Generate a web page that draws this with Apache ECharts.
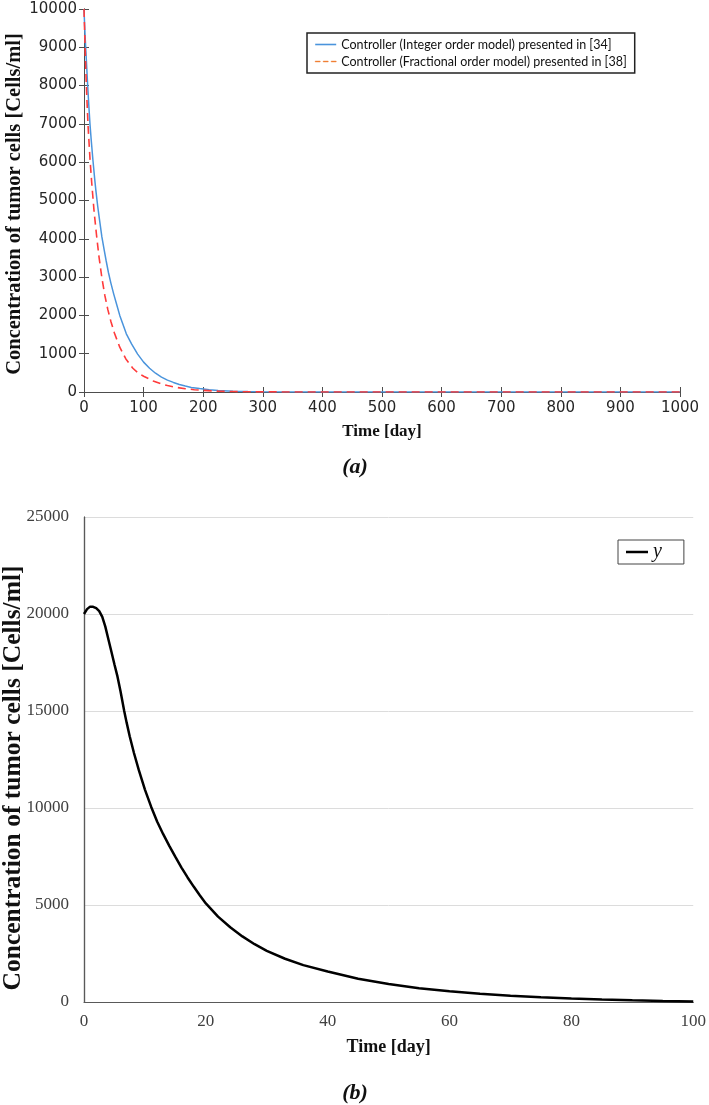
<!DOCTYPE html>
<html>
<head>
<meta charset="utf-8">
<script src="https://cdn.jsdelivr.net/npm/echarts@6/dist/echarts.min.js"></script>
<style>
  html, body { margin: 0; padding: 0; background: #fff; }
  #chart { width: 709px; height: 1105px; }
</style>
</head>
<body>
<div id="chart"></div>
<script>
// panel (a): time in days, tumour cell concentration
const daysInt = [0, 1, 2, 3, 4, 5, 6, 8, 10, 12, 15, 18, 20, 23, 26, 30, 34, 37, 41, 45, 50, 54, 60, 65, 71, 80, 90, 100, 110, 120, 130, 140, 150, 160, 170, 180, 194, 210, 225, 250, 275, 300, 350, 400, 500, 600, 700, 800, 900, 1000]
const cellsInt = [10000, 9600, 9250, 8950, 8650, 8350, 8050, 7500, 7000, 6600, 6050, 5550, 5250, 4850, 4500, 4050, 3700, 3440, 3120, 2850, 2550, 2330, 2000, 1780, 1520, 1250, 990, 780, 620, 490, 390, 310, 250, 195, 155, 120, 90, 60, 40, 20, 10, 5, 2, 0, 0, 0, 0, 0, 0, 0]
const daysFrac = [0, 1, 2, 3, 4, 5, 7, 10, 13, 17, 21, 25, 30, 35, 40, 45, 51, 60, 70, 82, 90, 100, 116, 130, 140, 155, 170, 185, 200, 225, 250, 275, 300, 350, 400, 500, 600, 700, 800, 900, 1000]
const cellsFrac = [10000, 9450, 8950, 8450, 8000, 7600, 6900, 6100, 5450, 4700, 4100, 3550, 2980, 2520, 2150, 1850, 1540, 1170, 870, 620, 510, 410, 290, 210, 170, 120, 85, 60, 42, 22, 12, 6, 3, 1, 0, 0, 0, 0, 0, 0, 0]

// panel (b)
const daysB = [0, 0.5, 1, 1.5, 2, 2.5, 3, 3.5, 4, 4.5, 5, 5.5, 6, 6.6, 7, 7.5, 8.2, 9, 10, 11, 12, 13, 14, 15, 16, 17, 18, 19, 20, 22, 24, 26, 28, 30, 33, 36, 40, 45, 50, 55, 60, 65, 70, 75, 80, 85, 90, 95, 100]
const cellsB = [20000, 20250, 20380, 20370, 20300, 20150, 19850, 19350, 18700, 18050, 17400, 16770, 16000, 15000, 14400, 13700, 12835, 11950, 10950, 10080, 9300, 8650, 8050, 7480, 6930, 6420, 5950, 5500, 5080, 4400, 3850, 3380, 2980, 2640, 2230, 1900, 1570, 1200, 930, 710, 550, 420, 320, 240, 175, 125, 85, 55, 30]

const nameInt = 'Controller (Integer order model) presented in [34]'
const nameFrac = 'Controller (Fractional order model) presented in [38]'
const yLabel = 'Concentration of tumor cells [Cells/ml]'

const pairs = (xs, ys) => xs.map((x, i) => [x, ys[i]])
const plain = v => String(v)

const matlabLine = { lineStyle: { color: '#4d4d4d', width: 1 } }
const matlabTick = { show: true, inside: true, length: 5, lineStyle: { color: '#4d4d4d' } }
const sansLabel = { fontFamily: 'DejaVu Sans', fontSize: 15, color: '#262626', formatter: plain }
const serifLabel = { fontFamily: 'Liberation Serif', fontSize: 17, color: '#404040', formatter: plain }

const chart = echarts.init(document.getElementById('chart'))

chart.setOption({
  animation: false,
  grid: [
    { left: 84, right: 29, top: 9, height: 383 },
    { left: 84, right: 15, top: 517, height: 485 }
  ],
  legend: [
    {
      data: [
        { name: nameInt, icon: 'rect', itemStyle: { color: '#4a94dc' } },
        {
          name: nameFrac,
          icon: 'path://M0,0h5v1h-5z M8,0h5v1h-5z M16,0h5v1h-5z',
          itemStyle: { color: '#f07f35', borderColor: '#f07f35', borderWidth: 0.4 },
          lineStyle: { color: '#f07f35' }
        }
      ],
      orient: 'vertical',
      left: 307, top: 33,
      padding: [5, 8, 5, 8],
      itemGap: 4,
      itemWidth: 21, itemHeight: 1.6,
      borderColor: '#222', borderWidth: 1.5,
      textStyle: { fontFamily: 'Lato', fontSize: 12.5, color: '#111' }
    },
    {
      data: [{ name: 'y', icon: 'rect', itemStyle: { color: '#000' } }],
      left: 618, top: 540,
      padding: [2, 22, 2, 8],
      itemWidth: 22, itemHeight: 2.5,
      borderColor: '#444', borderWidth: 1,
      textStyle: { fontFamily: 'Liberation Serif', fontStyle: 'italic', fontSize: 20, color: '#111' }
    }
  ],
  xAxis: [
    {
      gridIndex: 0, type: 'value', min: 0, max: 1000, interval: 100,
      axisLine: matlabLine, axisTick: matlabTick, splitLine: { show: false },
      axisLabel: Object.assign({ margin: 9 }, sansLabel),
      name: 'Time [day]', nameLocation: 'middle', nameGap: 31,
      nameTextStyle: { fontFamily: 'Liberation Serif', fontWeight: 'bold', fontSize: 17, color: '#111' }
    },
    {
      gridIndex: 0, type: 'value', position: 'top', min: 0, max: 1000, interval: 100,
      axisLine: matlabLine, axisTick: matlabTick, axisLabel: { show: false }, splitLine: { show: false }
    },
    {
      gridIndex: 1, type: 'value', min: 0, max: 100, interval: 20,
      axisLine: { show: false }, axisTick: { show: false }, splitLine: { show: false },
      axisLabel: Object.assign({ margin: 11 }, serifLabel),
      name: 'Time [day]', nameLocation: 'middle', nameGap: 36,
      nameTextStyle: { fontFamily: 'Liberation Serif', fontWeight: 'bold', fontSize: 18, color: '#111' }
    },
    {
      gridIndex: 1, type: 'value', position: 'top', min: 0, max: 100,
      axisLine: { lineStyle: { color: '#595959', width: 1.2 } },
      axisTick: { show: false }, axisLabel: { show: false }, splitLine: { show: false }
    }
  ],
  yAxis: [
    {
      gridIndex: 0, type: 'value', min: 0, max: 10000, interval: 1000,
      axisLine: Object.assign({ show: true }, matlabLine), axisTick: matlabTick, splitLine: { show: false },
      axisLabel: Object.assign({ margin: 7 }, sansLabel)
    },
    {
      gridIndex: 0, type: 'value', position: 'right', min: 0, max: 10000, interval: 1000,
      axisLine: Object.assign({ show: true }, matlabLine), axisTick: matlabTick,
      axisLabel: { show: false }, splitLine: { show: false }
    },
    {
      gridIndex: 1, type: 'value', min: 0, max: 25000, interval: 5000,
      axisLine: { show: true, lineStyle: { color: '#595959', width: 1.2 } },
      axisTick: { show: false },
      splitLine: { lineStyle: { color: '#dcdcdc', width: 1 } },
      axisLabel: Object.assign({ margin: 15 }, serifLabel)
    },
    {
      gridIndex: 1, type: 'value', position: 'right', min: 0, max: 25000,
      axisLine: { show: true, lineStyle: { color: '#595959', width: 1.2 } },
      axisTick: { show: false }, axisLabel: { show: false }, splitLine: { show: false }
    }
  ],
  series: [
    {
      name: nameInt, type: 'line', xAxisIndex: 0, yAxisIndex: 0,
      data: pairs(daysInt, cellsInt), symbol: 'none',
      color: '#4a94dc',
      lineStyle: { color: '#4a94dc', width: 1.5 }
    },
    {
      name: nameFrac, type: 'line', xAxisIndex: 0, yAxisIndex: 0,
      data: pairs(daysFrac, cellsFrac), symbol: 'none',
      color: '#ff3b3b',
      lineStyle: { color: '#ff3b3b', width: 1.6, type: [8, 5] }
    },
    {
      name: 'y', type: 'line', xAxisIndex: 2, yAxisIndex: 2,
      data: pairs(daysB, cellsB), symbol: 'none',
      color: '#000',
      lineStyle: { color: '#000', width: 2.5 }
    }
  ],
  graphic: [
    {
      type: 'text', x: 15, y: 204, rotation: Math.PI / 2,
      style: { text: yLabel, align: 'center', verticalAlign: 'middle',
        font: 'bold 20.5px "Liberation Serif"', fill: '#111' }
    },
    {
      type: 'text', x: 13, y: 778, rotation: Math.PI / 2,
      style: { text: yLabel, align: 'center', verticalAlign: 'middle',
        font: 'bold 25.5px "Liberation Serif"', fill: '#111' }
    },
    {
      type: 'text', x: 355, y: 467,
      style: { text: '(a)', align: 'center', verticalAlign: 'middle',
        font: 'italic bold 22px "Liberation Serif"', fill: '#111' }
    },
    {
      type: 'text', x: 355, y: 1093,
      style: { text: '(b)', align: 'center', verticalAlign: 'middle',
        font: 'italic bold 22px "Liberation Serif"', fill: '#111' }
    }
  ]
})
</script>
</body>
</html>
